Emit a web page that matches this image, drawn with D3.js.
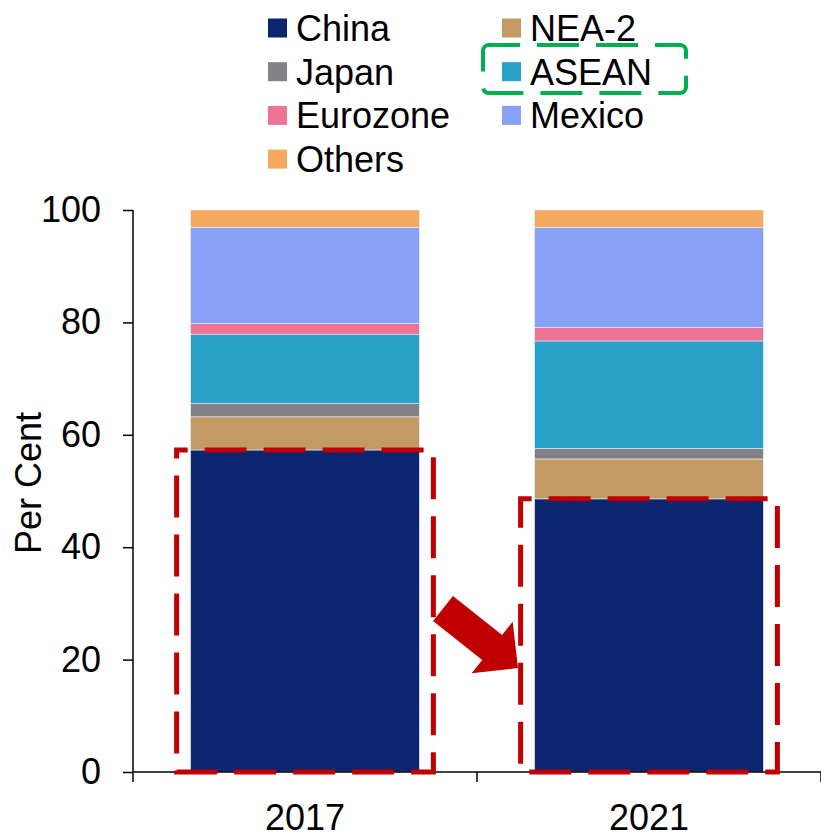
<!DOCTYPE html>
<html>
<head>
<meta charset="utf-8">
<script src="https://cdn.jsdelivr.net/npm/d3@7"></script>
<style>
  html, body { margin: 0; padding: 0; background: #fff; }
  svg { display: block; font-family: "Liberation Sans", Arial, sans-serif; }
</style>
</head>
<body>
<svg id="chart" width="821" height="832"></svg>
<script>
// Share of imports by source, per cent
const years = ["2017", "2021"];
const seriesNames = ["China", "NEA-2", "Japan", "ASEAN", "Eurozone", "Mexico", "Others"];
const china    = [57.3, 48.6];
const nea2     = [5.9, 7.1];
const japan    = [2.4, 1.9];
const asean    = [12.3, 19.1];
const eurozone = [1.9, 2.4];
const mexico   = [17.1, 17.8];
const others   = [3.1, 3.1];
const yTicks   = [0, 20, 40, 60, 80, 100];

const colors = {
  "China": "#0c2570",
  "NEA-2": "#c29b64",
  "Japan": "#818186",
  "ASEAN": "#29a1c6",
  "Eurozone": "#ee7394",
  "Mexico": "#88a0f5",
  "Others": "#f5a960"
};

const seriesValues = {
  "China": china, "NEA-2": nea2, "Japan": japan, "ASEAN": asean,
  "Eurozone": eurozone, "Mexico": mexico, "Others": others
};

const rows = years.map((yr, i) => {
  const r = { year: yr };
  seriesNames.forEach(k => { r[k] = seriesValues[k][i]; });
  return r;
});

const svg = d3.select("#chart");
const fontSize = 36;

const plotLeft = 133, plotRight = 821, plotTop = 210, plotBottom = 772;

const x = d3.scaleBand().domain(years).range([plotLeft, plotRight]).padding(0);
const barFrac = 0.665;
const barW = x.bandwidth() * barFrac;
const barX = d => x(d) + (x.bandwidth() - barW) / 2;

const y = d3.scaleLinear().domain([0, 100]).range([plotBottom, plotTop]);

const stacked = d3.stack().keys(seriesNames)(rows);

// Stacked bars
svg.append("g")
  .selectAll("g")
  .data(stacked)
  .join("g")
  .attr("fill", s => colors[s.key])
  .selectAll("rect")
  .data(s => s)
  .join("rect")
  .attr("x", d => barX(d.data.year))
  .attr("width", barW)
  .attr("y", d => y(d[1]))
  .attr("height", d => y(d[0]) - y(d[1]))
  .attr("stroke", "#e8eef8")
  .attr("stroke-width", 0.6);

// Y axis
const yAxis = svg.append("g")
  .attr("transform", `translate(${plotLeft},0)`)
  .call(d3.axisLeft(y).tickValues(yTicks).tickSize(10).tickPadding(22).tickSizeOuter(0));
yAxis.select(".domain").attr("stroke", "#000").attr("stroke-width", 1.5)
  .attr("d", `M0,${plotTop}V${plotBottom + 10}`);
yAxis.selectAll(".tick line").attr("stroke", "#000").attr("stroke-width", 1.5);
yAxis.selectAll(".tick text")
  .attr("font-size", fontSize)
  .attr("font-family", "Liberation Sans, Arial, sans-serif")
  .attr("fill", "#000");

// X axis with category separators
const xAxisG = svg.append("g");
xAxisG.append("line")
  .attr("x1", plotLeft).attr("x2", plotRight)
  .attr("y1", plotBottom).attr("y2", plotBottom)
  .attr("stroke", "#000").attr("stroke-width", 1.5);
const boundaries = years.map(d => x(d)).concat([x(years[years.length - 1]) + x.bandwidth()]);
xAxisG.selectAll("line.sep")
  .data(boundaries.slice(1))
  .join("line")
  .attr("class", "sep")
  .attr("x1", d => d).attr("x2", d => d)
  .attr("y1", plotBottom).attr("y2", plotBottom + 10)
  .attr("stroke", "#000").attr("stroke-width", 1.5);
xAxisG.selectAll("text")
  .data(years)
  .join("text")
  .attr("x", d => x(d) + x.bandwidth() / 2)
  .attr("y", 830)
  .attr("text-anchor", "middle")
  .attr("font-size", fontSize)
  .attr("fill", "#000")
  .text(d => d);

// Y axis title
svg.append("text")
  .attr("transform", `translate(41,${(plotTop + plotBottom) / 2 - 8}) rotate(-90)`)
  .attr("text-anchor", "middle")
  .attr("font-size", fontSize)
  .attr("fill", "#000")
  .text("Per Cent");

// Legend: two columns, filled row by row in stack order
const legend = svg.append("g");
const legendCols = [268, 502];
const rowY0 = 28, rowStep = 43.7, sw = 19;
seriesNames.forEach((name, i) => {
  const col = i % 2, row = Math.floor(i / 2);
  const lx = legendCols[col], ly = rowY0 + row * rowStep;
  const g = legend.append("g").attr("transform", `translate(${lx},${ly})`);
  g.append("rect")
    .attr("x", 0).attr("y", -sw / 2)
    .attr("width", sw).attr("height", sw)
    .attr("fill", colors[name]);
  g.append("text")
    .attr("x", 28).attr("y", 0)
    .attr("dy", "0.36em")
    .attr("font-size", fontSize)
    .attr("fill", "#000")
    .text(name);
});

// Dashed highlight around the ASEAN legend entry
svg.append("rect")
  .attr("x", 483).attr("y", 45)
  .attr("width", 203).attr("height", 48)
  .attr("rx", 6).attr("ry", 6)
  .attr("fill", "none")
  .attr("stroke", "#00b050")
  .attr("stroke-width", 4)
  .attr("stroke-dasharray", "42 17")
  .attr("stroke-dashoffset", 11);

// Dashed red frames around the China segment of each bar
const framePad = 14;
svg.append("g")
  .selectAll("path")
  .data(years.map((yr, i) => ({ year: yr, value: china[i] })))
  .join("path")
  .attr("d", d => {
    const x0 = barX(d.year) - framePad, x1 = barX(d.year) + barW + framePad;
    const y0 = y(d.value), y1 = y(0);
    return `M${x0},${y0}H${x1}V${y1}H${x0}Z`;
  })
  .attr("fill", "none")
  .attr("stroke", "#c00000")
  .attr("stroke-width", 5)
  .attr("stroke-dasharray", "42 17")
  .attr("stroke-dashoffset", 31);

// Block arrow showing the fall in China's share
const ax0 = 443, ay0 = 608.5, ax1 = 518, ay1 = 668;
const ang = Math.atan2(ay1 - ay0, ax1 - ax0) * 180 / Math.PI;
const len = Math.hypot(ax1 - ax0, ay1 - ay0);
const shaftHalf = 16, headHalf = 33, headLen = 33;
svg.append("path")
  .attr("transform", `translate(${ax0},${ay0}) rotate(${ang})`)
  .attr("d", `M0,${-shaftHalf}L${len - headLen},${-shaftHalf}L${len - headLen},${-headHalf}L${len},0L${len - headLen},${headHalf}L${len - headLen},${shaftHalf}L0,${shaftHalf}Z`)
  .attr("fill", "#c00000");
</script>
</body>
</html>
